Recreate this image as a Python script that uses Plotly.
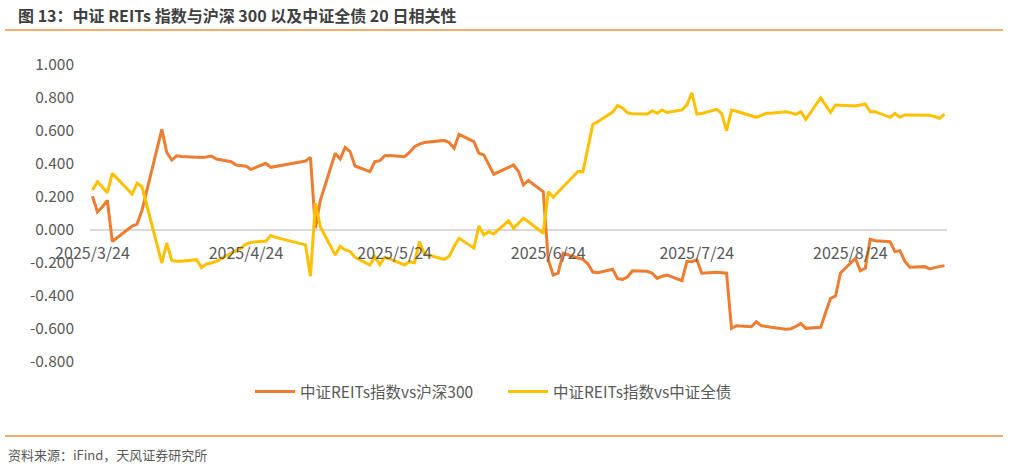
import plotly.graph_objects as go

# trading days, 2025-03-24 .. 2025-09-12
dates = [
    "2025-03-24", "2025-03-25", "2025-03-26", "2025-03-27", "2025-03-28", "2025-03-31",
    "2025-04-01", "2025-04-02", "2025-04-03", "2025-04-07", "2025-04-08", "2025-04-09",
    "2025-04-10", "2025-04-11", "2025-04-14", "2025-04-15", "2025-04-16", "2025-04-17",
    "2025-04-18", "2025-04-21", "2025-04-22", "2025-04-23", "2025-04-24", "2025-04-25",
    "2025-04-28", "2025-04-29", "2025-04-30",
    "2025-05-06", "2025-05-07", "2025-05-08", "2025-05-09", "2025-05-12", "2025-05-13",
    "2025-05-14", "2025-05-15", "2025-05-16", "2025-05-19", "2025-05-20", "2025-05-21",
    "2025-05-22", "2025-05-23", "2025-05-26", "2025-05-27", "2025-05-28", "2025-05-29",
    "2025-05-30",
    "2025-06-03", "2025-06-04", "2025-06-05", "2025-06-06", "2025-06-09", "2025-06-10",
    "2025-06-11", "2025-06-12", "2025-06-13", "2025-06-16", "2025-06-17", "2025-06-18",
    "2025-06-19", "2025-06-20", "2025-06-23", "2025-06-24", "2025-06-25", "2025-06-26",
    "2025-06-27", "2025-06-30",
    "2025-07-01", "2025-07-02", "2025-07-03", "2025-07-04", "2025-07-07", "2025-07-08",
    "2025-07-09", "2025-07-10", "2025-07-11", "2025-07-14", "2025-07-15", "2025-07-16",
    "2025-07-17", "2025-07-18", "2025-07-21", "2025-07-22", "2025-07-23", "2025-07-24",
    "2025-07-25", "2025-07-28", "2025-07-29", "2025-07-30", "2025-07-31",
    "2025-08-01", "2025-08-04", "2025-08-05", "2025-08-06", "2025-08-07", "2025-08-08",
    "2025-08-11", "2025-08-12", "2025-08-13", "2025-08-14", "2025-08-15", "2025-08-18",
    "2025-08-19", "2025-08-20", "2025-08-21", "2025-08-22", "2025-08-25", "2025-08-26",
    "2025-08-27", "2025-08-28", "2025-08-29",
    "2025-09-01", "2025-09-02", "2025-09-03", "2025-09-04", "2025-09-05", "2025-09-08",
    "2025-09-09", "2025-09-10", "2025-09-11", "2025-09-12",
]

# 中证REITs指数 vs 沪深300
corr_hs300 = [
    0.205, 0.11, 0.14, 0.18, -0.07, 0.00,
    0.024, 0.036, 0.12, 0.61, 0.47, 0.424,
    0.45, 0.445, 0.44, 0.44, 0.442, 0.448,
    0.43, 0.414, 0.394, 0.39, 0.386, 0.368,
    0.404, 0.38, 0.385,
    0.418, 0.44, 0.01, 0.18, 0.465, 0.43,
    0.50, 0.475, 0.388, 0.354, 0.414, 0.42,
    0.45, 0.452, 0.444, 0.47, 0.505, 0.52,
    0.53,
    0.543, 0.53, 0.495, 0.58, 0.535, 0.465,
    0.455, 0.40, 0.338, 0.38, 0.394, 0.354,
    0.273, 0.30, 0.232, -0.18, -0.273, -0.262,
    -0.141, -0.17,
    -0.178, -0.205, -0.255, -0.259, -0.238, -0.295,
    -0.299, -0.285, -0.247, -0.25, -0.262, -0.293,
    -0.28, -0.273, -0.307, -0.19, -0.192, -0.18,
    -0.262, -0.256, -0.26, -0.262, -0.596,
    -0.58, -0.586, -0.556, -0.58, -0.586, -0.59,
    -0.602, -0.598, -0.585, -0.566, -0.596, -0.59,
    -0.50, -0.414, -0.40, -0.26, -0.172, -0.247,
    -0.232, -0.056, -0.065,
    -0.071, -0.131, -0.125, -0.19, -0.226, -0.222,
    -0.236, -0.228, -0.222, -0.216,
]

# 中证REITs指数 vs 中证全债
corr_bond = [
    0.242, 0.293, 0.26, 0.226, 0.343, 0.245,
    0.218, 0.283, 0.262, -0.20, -0.08, -0.185,
    -0.19, -0.19, -0.18, -0.228, -0.206, -0.20,
    -0.19, -0.14, -0.125, -0.11, -0.085, -0.075,
    -0.067, -0.034, -0.045,
    -0.09, -0.28, 0.162, 0.02, -0.152, -0.10,
    -0.12, -0.13, -0.166, -0.212, -0.162, -0.21,
    -0.165, -0.175, -0.212, -0.192, -0.198, -0.07,
    -0.145,
    -0.178, -0.16, -0.10, -0.05, -0.11, 0.024,
    -0.03, -0.01, -0.024, 0.056, 0.01, 0.04,
    0.071, 0.05, -0.02, 0.232, 0.198, 0.23,
    0.26, 0.355,
    0.354, 0.50, 0.64, 0.656, 0.715, 0.755,
    0.74, 0.71, 0.705, 0.703, 0.723, 0.707,
    0.727, 0.713, 0.728, 0.758, 0.832, 0.703,
    0.706, 0.731, 0.707, 0.602, 0.727,
    0.72, 0.69, 0.683, 0.695, 0.707, 0.707,
    0.717, 0.71, 0.701, 0.717, 0.671, 0.80,
    0.76, 0.713, 0.758, 0.756, 0.752, 0.758,
    0.764, 0.717, 0.717,
    0.683, 0.707, 0.683, 0.697, 0.697, 0.697,
    0.695, 0.688, 0.677, 0.703,
]

x_tick_dates = ["2025-03-24", "2025-04-24", "2025-05-24", "2025-06-24", "2025-07-24", "2025-08-24"]
x_tick_text = ["2025/3/24", "2025/4/24", "2025/5/24", "2025/6/24", "2025/7/24", "2025/8/24"]
y_tick_vals = [1.0, 0.8, 0.6, 0.4, 0.2, 0.0, -0.2, -0.4, -0.6, -0.8]
y_tick_text = ["1.000", "0.800", "0.600", "0.400", "0.200", "0.000",
               "-0.200", "-0.400", "-0.600", "-0.800"]

FONT = "Noto Sans CJK SC"
GREY = "#595959"
RULE = "#F0913A"

fig = go.Figure()
fig.add_trace(go.Scatter(x=dates, y=corr_hs300, mode="lines", name="中证REITs指数vs沪深300",
                         line=dict(color="#ED7D31", width=3)))
fig.add_trace(go.Scatter(x=dates, y=corr_bond, mode="lines", name="中证REITs指数vs中证全债",
                         line=dict(color="#FFC000", width=3)))

ymin, ymax = -0.8, 1.0
pw, ph = 1010 - 90 - 63, 466 - 65 - 104

fig.update_layout(
    width=1010, height=466,
    margin=dict(l=90, r=63, t=65, b=104),
    paper_bgcolor="white", plot_bgcolor="white",
    font=dict(family=FONT, color=GREY, size=14),
    showlegend=True,
    legend=dict(orientation="h", x=(250 - 90) / pw, y=-0.101, xanchor="left", yanchor="middle",
                font=dict(size=15.5, color=GREY), itemwidth=40, entrywidth=198,
                entrywidthmode="pixels", bgcolor="rgba(0,0,0,0)"),
    xaxis=dict(type="date", range=["2025-03-23 12:00", "2025-09-12 12:00"],
               tickvals=x_tick_dates, ticktext=x_tick_text, tickfont=dict(size=16, color=GREY),
               showgrid=False, showline=False, zeroline=False, ticks="",
               anchor="free", position=(0 - ymin) / (ymax - ymin), ticklabelstandoff=12),
    yaxis=dict(range=[ymin, ymax], tickvals=y_tick_vals, ticktext=y_tick_text,
               tickfont=dict(size=15.5, color=GREY), showgrid=False, showline=False,
               zeroline=True, zerolinecolor="#D9D9D9", zerolinewidth=1.5,
               ticks="", ticklabelstandoff=15),
)

# title
fig.add_annotation(text="<b>图 13：中证 REITs 指数与沪深 300 以及中证全债 20 日相关性</b>",
                   xref="paper", yref="paper", x=(16 - 90) / pw, y=(466 - 104 - 15) / ph,
                   xanchor="left", yanchor="middle", showarrow=False,
                   font=dict(family=FONT, size=16, color="#404040"))

# orange rules under the title and above the source line
for py in (30, 436):
    fig.add_shape(type="line", xref="paper", yref="paper",
                  x0=(5 - 90) / pw, x1=(1003 - 90) / pw,
                  y0=(466 - 104 - py) / ph, y1=(466 - 104 - py) / ph,
                  line=dict(color=RULE, width=1.5))

fig.add_annotation(text="资料来源：iFind，天风证券研究所", xref="paper", yref="paper",
                   x=(6 - 90) / pw, y=(466 - 104 - 454) / ph, xanchor="left", yanchor="middle",
                   showarrow=False, font=dict(family=FONT, size=13, color=GREY))

fig.write_html("out.html", config={"displayModeBar": False},
               post_script="document.body.style.margin='0';")
